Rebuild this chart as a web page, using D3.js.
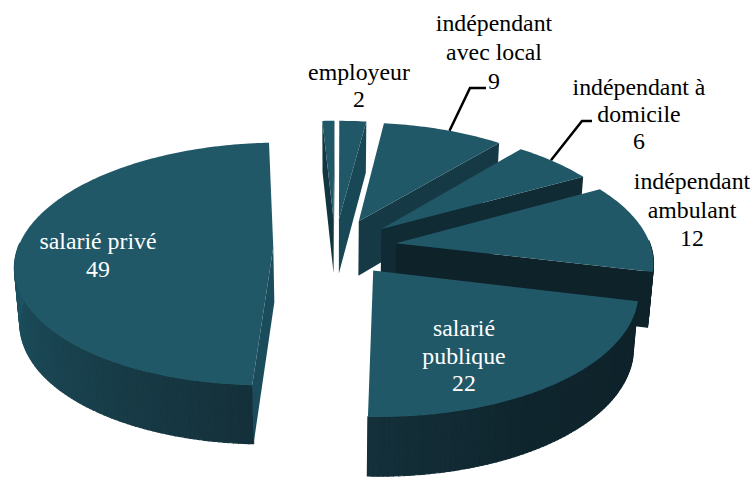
<!DOCTYPE html>
<html>
<head>
    <meta charset="utf-8">
    <title>emploi</title>
    <style media="screen">
        html, body { margin: 0; padding: 0; background: #fff; }
        svg { display: block; }
        text { font-family: "Liberation Serif", "Times New Roman", serif; font-size: 23.8px; text-anchor: middle; }
    </style>
</head>
<body>
<script src="https://cdn.jsdelivr.net/npm/d3@7/dist/d3.min.js"></script>
<script type="text/javascript">
    // values, in clockwise order from the top
    var categories = ["autre", "employeur", "indépendant avec local", "indépendant à domicile",
        "indépendant ambulant", "salarié publique", "salarié privé"];
    var values = [0.9, 2, 9, 6, 12, 22, 49];
    var labelLines = [
        [],
        ["employeur", "2"],
        ["indépendant", "avec local", "9"],
        ["indépendant à", "domicile", "6"],
        ["indépendant", "ambulant", "12"],
        ["salarié", "publique", "22"],
        ["salarié privé", "49"]
    ];

    // label placement, not data
    var labelPos = [null, [359, 80], [494, 31], [639, 95], [692, 189], [464, 336], [98, 249]];
    var labelStep = [0, 27, 29, 27, 28.5, 27.5, 28];
    var labelFill = ["#000", "#000", "#000", "#000", "#000", "#fff", "#fff"];
    var leaders = [null, null, {t: 0.55, elbow: [470, 88], end: [486, 88]},
        {t: 0.45, elbow: [582, 121], end: [592, 121]}, null, null, null];

    var width = 754, height = 477;
    var explode = 0.242, persp = 0.1377, depth = 55;

    var svg = d3.select("body").append("svg")
        .attr("width", width)
        .attr("height", height);

    // unit disc to screen
    var xScale = d3.scaleLinear().domain([-1, 1]).range([335 - 255, 335 + 255]);
    var yScale = d3.scaleLinear().domain([-1, 1]).range([247 + 119, 247 - 119]);

    var pie = d3.pie().sort(null)
        .startAngle(-3 * Math.PI / 180)
        .endAngle(357 * Math.PI / 180);
    var slices = pie(values);

    // shades of the walls, by angle in degrees
    var wallShade = d3.scaleLinear()
        .domain([100, 150, 182, 270])
        .range(["#0e2229", "#0f252d", "#14303a", "#1e5463"]);
    var faceShade = d3.scaleLinear()
        .domain([0, 10, 40, 60, 105, 182, 360])
        .range(["#123640", "#1a4e5d", "#153a45", "#112b34", "#0e2229", "#1a4c5c", "#123640"]);

    var line = d3.line().x(function (d) { return d[0]; }).y(function (d) { return d[1]; });

    // project a point of the disc, lifted or not, with a bit of perspective
    function project(X, Y, bottom) {
        var s = 1 / (1 + persp * Y);
        var px = xScale(X * s), py = yScale(Y * s);
        if (bottom) {
            px = xScale(0) + (px - xScale(0)) * 0.983;
            py += depth / (1 + 0.06 * Y);
        }
        return [px, py];
    }

    function apex(d) {
        var mid = (d.startAngle + d.endAngle) / 2;
        return [explode * Math.sin(mid), explode * Math.cos(mid)];
    }

    function rim(d, a, bottom) {
        var o = apex(d);
        return project(o[0] + Math.sin(a), o[1] + Math.cos(a), bottom);
    }

    function arcAngles(d) {
        var n = Math.max(2, Math.ceil((d.endAngle - d.startAngle) * 180 / Math.PI));
        return d3.range(n + 1).map(function (i) {
            return d.startAngle + (d.endAngle - d.startAngle) * i / n;
        });
    }

    slices.forEach(function (d, idx) {
        var g = svg.append("g").attr("class", "slice");
        var o = apex(d);
        var angles = arcAngles(d);

        // outer wall, only the strips that look at us
        d3.pairs(angles).forEach(function (p) {
            var mid = (p[0] + p[1]) / 2;
            if (Math.cos(mid) > 0.03) return;
            var c = wallShade(mid * 180 / Math.PI);
            g.append("path")
                .attr("d", line([rim(d, p[0]), rim(d, p[1]), rim(d, p[1], true), rim(d, p[0], true)]) + "Z")
                .attr("fill", c)
                .attr("stroke", c)
                .attr("stroke-width", 1.2);
        });

        // cut faces, the one that turns to the viewer
        [d.startAngle, d.endAngle].forEach(function (a, k) {
            var visible = k === 0 ? Math.sin(a) < 0 : Math.sin(a) > 0;
            if (!visible) return;
            var deg = (a * 180 / Math.PI + 360) % 360;
            g.append("path")
                .attr("d", line([project(o[0], o[1]), rim(d, a), rim(d, a, true), project(o[0], o[1], true)]) + "Z")
                .attr("fill", faceShade(deg));
        });

        // top of the slice
        g.append("path")
            .attr("d", line([project(o[0], o[1])].concat(angles.map(function (a) { return rim(d, a); }))) + "Z")
            .attr("fill", "#215868");
    });

    // leader lines
    slices.forEach(function (d, i) {
        var l = leaders[i];
        if (!l) return;
        var a = d.startAngle + (d.endAngle - d.startAngle) * l.t;
        svg.append("path")
            .attr("d", line([rim(d, a), l.elbow, l.end]))
            .attr("fill", "none")
            .attr("stroke", "#000")
            .attr("stroke-width", 2.5);
    });

    // labels
    categories.forEach(function (c, i) {
        if (!labelPos[i]) return;
        labelLines[i].forEach(function (t, j) {
            svg.append("text")
                .attr("x", labelPos[i][0])
                .attr("y", labelPos[i][1] + j * labelStep[i])
                .attr("fill", labelFill[i])
                .text(t);
        });
    });
</script>
</body>
</html>
